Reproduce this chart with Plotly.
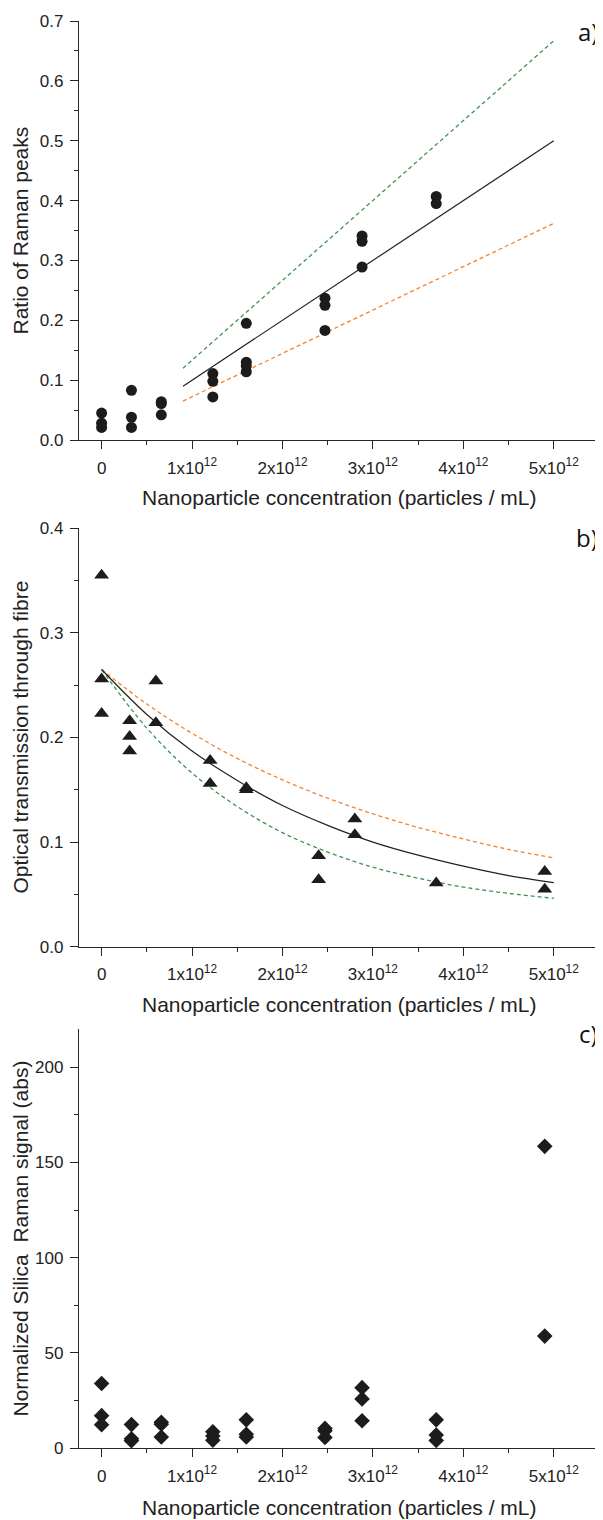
import plotly.graph_objects as go

# ---------------- data ----------------
# panel a : ratio of Raman peaks
conc_a = [0, 0, 0, 0.33, 0.33, 0.33, 0.66, 0.66, 0.66, 1.23, 1.23, 1.23,
          1.6, 1.6, 1.6, 1.6, 2.47, 2.47, 2.47, 2.88, 2.88, 2.88, 3.7, 3.7]
ratio_a = [0.045, 0.028, 0.021, 0.083, 0.038, 0.021, 0.064, 0.061, 0.042, 0.111, 0.098, 0.072,
           0.195, 0.130, 0.124, 0.114, 0.237, 0.225, 0.183, 0.341, 0.332, 0.289, 0.407, 0.395]
fit_conc_a = [0.9, 5.0]
fit_mid_a = [0.090, 0.500]
fit_up_a = [0.120, 0.667]
fit_low_a = [0.065, 0.362]

# panel b : optical transmission
conc_b = [0, 0, 0, 0.31, 0.31, 0.31, 0.6, 0.6, 1.2, 1.2, 1.6, 1.6,
          2.4, 2.4, 2.8, 2.8, 3.7, 4.9, 4.9]
trans_b = [0.355, 0.256, 0.223, 0.216, 0.201, 0.187, 0.254, 0.214, 0.178, 0.156, 0.152, 0.150,
           0.087, 0.064, 0.122, 0.107, 0.061, 0.072, 0.055]
fit_conc_b = [0, 0.5, 1.0, 1.5, 2.0, 2.5, 3.0, 3.5, 4.0, 4.5, 5.0]
fit_mid_b = [0.265, 0.222, 0.187, 0.159, 0.135, 0.116, 0.100, 0.0875, 0.077, 0.068, 0.0613]
fit_up_b = [0.265, 0.232, 0.204, 0.180, 0.1595, 0.142, 0.127, 0.114, 0.103, 0.093, 0.085]
fit_low_b = [0.265, 0.209, 0.166, 0.134, 0.109, 0.0905, 0.076, 0.0655, 0.057, 0.051, 0.0463]

# panel c : normalized silica Raman signal
conc_c = [0, 0, 0, 0.33, 0.33, 0.33, 0.66, 0.66, 0.66, 1.23, 1.23, 1.23,
          1.6, 1.6, 1.6, 2.47, 2.47, 2.47, 2.88, 2.88, 2.88, 3.7, 3.7, 3.7, 4.9, 4.9]
signal_c = [33.9, 17.0, 12.2, 12.3, 4.8, 3.8, 13.5, 12.5, 5.8, 8.5, 6.3, 4.1,
            14.8, 7.2, 5.8, 10.3, 9.0, 5.5, 31.7, 25.8, 14.3, 14.8, 6.8, 4.0, 158.5, 58.8]

x_tick_vals = [0, 1, 2, 3, 4, 5]
x_tick_text = ["0", "1x10<sup>12</sup>", "2x10<sup>12</sup>", "3x10<sup>12</sup>",
               "4x10<sup>12</sup>", "5x10<sup>12</sup>"]
SCALE = 1e12

x_title = "Nanoparticle concentration (particles / mL)"
y_titles = ["Ratio of Raman peaks", "Optical transmission through fibre",
            "Normalized Silica  Raman signal (abs)"]
panel_labels = ["a)", "b)", "c)"]

# ---------------- styling ----------------
OFF = 8                      # default page body margin
W, H = 603 - OFF, 1520 - OFF
ML = 79 - OFF
MR = W - (599 - OFF)
MT = 21 - OFF
MB = H - (1448 - OFF)
PW, PH = W - ML - MR, H - MT - MB
AX = "#262626"
MK = "#1c1c1c"
GREEN = "#3f9350"
ORANGE = "#f3832f"
FONT = "Liberation Sans, Arial, sans-serif"


def py(page_px):
    return (H - MB - (page_px - OFF)) / PH


def pxx(page_px):
    return ((page_px - OFF) - ML) / PW


def sc(v):
    return [x * SCALE for x in v]


fig = go.Figure()

# panel a
fig.add_trace(go.Scatter(x=sc(fit_conc_a), y=fit_up_a, mode="lines",
                         line=dict(color=GREEN, width=1.3, dash="4px,3px"), xaxis="x", yaxis="y"))
fig.add_trace(go.Scatter(x=sc(fit_conc_a), y=fit_low_a, mode="lines",
                         line=dict(color=ORANGE, width=1.3, dash="4px,3px"), xaxis="x", yaxis="y"))
fig.add_trace(go.Scatter(x=sc(fit_conc_a), y=fit_mid_a, mode="lines",
                         line=dict(color="#222222", width=1.2), xaxis="x", yaxis="y"))
fig.add_trace(go.Scatter(x=sc(conc_a), y=ratio_a, mode="markers",
                         marker=dict(symbol="circle", size=11, color=MK), xaxis="x", yaxis="y"))

# panel b
fig.add_trace(go.Scatter(x=sc(fit_conc_b), y=fit_up_b, mode="lines", line_shape="spline",
                         line=dict(color=ORANGE, width=1.3, dash="4px,3px"), xaxis="x2", yaxis="y2"))
fig.add_trace(go.Scatter(x=sc(fit_conc_b), y=fit_low_b, mode="lines", line_shape="spline",
                         line=dict(color=GREEN, width=1.3, dash="4px,3px"), xaxis="x2", yaxis="y2"))
fig.add_trace(go.Scatter(x=sc(fit_conc_b), y=fit_mid_b, mode="lines", line_shape="spline",
                         line=dict(color="#222222", width=1.2), xaxis="x2", yaxis="y2"))
fig.add_trace(go.Scatter(x=sc(conc_b), y=trans_b, mode="markers",
                         marker=dict(symbol="triangle-up", size=13, color=MK), xaxis="x2", yaxis="y2"))

# panel c
fig.add_trace(go.Scatter(x=sc(conc_c), y=signal_c, mode="markers",
                         marker=dict(symbol="diamond", size=12, color=MK), xaxis="x3", yaxis="y3"))

common_axis = dict(showline=True, linecolor=AX, linewidth=1.3, showgrid=False, zeroline=False,
                   ticks="outside", ticklen=8, tickwidth=1.3, tickcolor=AX,
                   tickfont=dict(family=FONT, size=17, color="#222222"), mirror=False)

xaxis_common = dict(common_axis, range=[-0.25 * SCALE, 5.5 * SCALE], tickmode="array",
                    tickvals=[v * SCALE for v in x_tick_vals], ticktext=x_tick_text,
                    ticklabelstandoff=4,
                    minor=dict(tickmode="linear", tick0=0, dtick=0.5 * SCALE, ticks="outside",
                               ticklen=4, tickwidth=1.3, tickcolor=AX))

domains = [[py(440), 1.0], [py(946.7), py(528.3)], [0.0, py(1029.3)]]

yminor = lambda d: dict(tickmode="linear", tick0=0, dtick=d, ticks="outside",
                        ticklen=4, tickwidth=1.3, tickcolor=AX)

layout = dict(
    width=W, height=H, showlegend=False,
    margin=dict(l=ML, r=MR, t=MT, b=MB),
    paper_bgcolor="white", plot_bgcolor="white",
    xaxis=dict(xaxis_common, domain=[0, 1], anchor="y"),
    xaxis2=dict(xaxis_common, domain=[0, 1], anchor="y2"),
    xaxis3=dict(xaxis_common, domain=[0, 1], anchor="y3"),
    yaxis=dict(common_axis, domain=domains[0], anchor="x", range=[0, 0.7], tickmode="linear",
               tick0=0, dtick=0.1, tickformat=".1f", ticklabelstandoff=3, minor=yminor(0.05)),
    yaxis2=dict(common_axis, domain=domains[1], anchor="x2", range=[0, 0.4], tickmode="linear",
                tick0=0, dtick=0.1, tickformat=".1f", ticklabelstandoff=3, minor=yminor(0.05)),
    yaxis3=dict(common_axis, domain=domains[2], anchor="x3", range=[0, 220], tickmode="linear",
                tick0=0, dtick=50, ticklabelstandoff=3, minor=yminor(25)),
)

annotations = []
x_title_px = [497, 1004, 1507]
y_center_px = [230.5, 737.5, 1238.5]
label_px = [32, 537, 1033]
for i in range(3):
    annotations.append(dict(text=x_title, xref="paper", yref="paper", x=0.5, y=py(x_title_px[i]),
                            xanchor="center", yanchor="middle", showarrow=False,
                            font=dict(family=FONT, size=21, color="#222222")))
    annotations.append(dict(text=y_titles[i], xref="paper", yref="paper", x=pxx(20),
                            y=py(y_center_px[i]), xanchor="center", yanchor="middle",
                            textangle=-90, showarrow=False,
                            font=dict(family=FONT, size=21, color="#222222")))
    annotations.append(dict(text=panel_labels[i], xref="paper", yref="paper", x=pxx(599),
                            y=py(label_px[i]), xanchor="right", yanchor="middle", showarrow=False,
                            borderpad=0,
                            font=dict(family="Open Sans, DejaVu Sans, sans-serif", size=24,
                                      color="#111111")))
layout["annotations"] = annotations

fig.update_layout(**layout)
fig.write_html("out.html")
